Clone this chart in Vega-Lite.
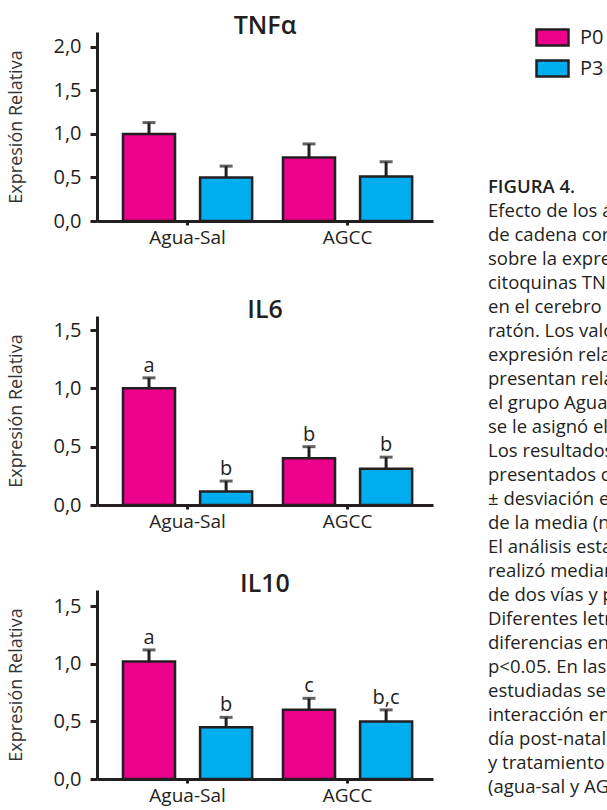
{
  "$schema": "https://vega.github.io/schema/vega-lite/v6.json",
  "background": "white",
  "padding": {"left": 7, "top": 14, "right": 0, "bottom": 0},
  "datasets": {
    "barras": [
      {"panel": "TNFα", "grupo": "Agua-Sal", "dia": "P0", "media": 1.0, "superior": 1.13, "letra": ""},
      {"panel": "TNFα", "grupo": "Agua-Sal", "dia": "P3", "media": 0.5, "superior": 0.63, "letra": ""},
      {"panel": "TNFα", "grupo": "AGCC", "dia": "P0", "media": 0.73, "superior": 0.885, "letra": ""},
      {"panel": "TNFα", "grupo": "AGCC", "dia": "P3", "media": 0.51, "superior": 0.68, "letra": ""},
      {"panel": "IL6", "grupo": "Agua-Sal", "dia": "P0", "media": 1.0, "superior": 1.09, "letra": "a"},
      {"panel": "IL6", "grupo": "Agua-Sal", "dia": "P3", "media": 0.115, "superior": 0.205, "letra": "b"},
      {"panel": "IL6", "grupo": "AGCC", "dia": "P0", "media": 0.4, "superior": 0.5, "letra": "b"},
      {"panel": "IL6", "grupo": "AGCC", "dia": "P3", "media": 0.31, "superior": 0.41, "letra": "b"},
      {"panel": "IL10", "grupo": "Agua-Sal", "dia": "P0", "media": 1.02, "superior": 1.12, "letra": "a"},
      {"panel": "IL10", "grupo": "Agua-Sal", "dia": "P3", "media": 0.45, "superior": 0.535, "letra": "b"},
      {"panel": "IL10", "grupo": "AGCC", "dia": "P0", "media": 0.6, "superior": 0.7, "letra": "c"},
      {"panel": "IL10", "grupo": "AGCC", "dia": "P3", "media": 0.5, "superior": 0.6, "letra": "b,c"}
    ],
    "texto": [
      {"linea": 0, "texto": "FIGURA 4."},
      {"linea": 1, "texto": "Efecto de los ácidos grasos"},
      {"linea": 2, "texto": "de cadena corta (AGCC)"},
      {"linea": 3, "texto": "sobre la expresión de las"},
      {"linea": 4, "texto": "citoquinas TNFα, IL6 e IL10"},
      {"linea": 5, "texto": "en el cerebro medio del"},
      {"linea": 6, "texto": "ratón. Los valores de"},
      {"linea": 7, "texto": "expresión relativa se"},
      {"linea": 8, "texto": "presentan relativos a"},
      {"linea": 9, "texto": "el grupo Agua-Sal P0, al que"},
      {"linea": 10, "texto": "se le asignó el valor de 1."},
      {"linea": 11, "texto": "Los resultados son"},
      {"linea": 12, "texto": "presentados como la media"},
      {"linea": 13, "texto": "± desviación estándar"},
      {"linea": 14, "texto": "de la media (n=6)."},
      {"linea": 15, "texto": "El análisis estadístico se"},
      {"linea": 16, "texto": "realizó mediante ANOVA"},
      {"linea": 17, "texto": "de dos vías y post-test."},
      {"linea": 18, "texto": "Diferentes letras indican"},
      {"linea": 19, "texto": "diferencias entre grupos con"},
      {"linea": 20, "texto": "p<0.05. En las citoquinas"},
      {"linea": 21, "texto": "estudiadas se encontró"},
      {"linea": 22, "texto": "interacción entre el factor"},
      {"linea": 23, "texto": "día post-natal (P0 y P3)"},
      {"linea": 24, "texto": "y tratamiento"},
      {"linea": 25, "texto": "(agua-sal y AGCC)."}
    ]
  },
  "resolve": {"scale": {"fill": "independent"}, "legend": {"fill": "independent"}},
  "spacing": 55,
  "hconcat": [
    {
      "spacing": 41,
      "vconcat": [
        {
          "spacing": 51,
          "vconcat": [
            {
              "width": 336, "height": 189,
              "title": {"text": "TNFα"},
              "data": {"name": "barras"},
              "transform": [{"filter": "datum.panel === 'TNFα'"}],
              "encoding": {
                "x": {"field": "grupo", "type": "nominal", "sort": ["Agua-Sal", "AGCC"], "scale": {"paddingInner": 0, "paddingOuter": 0.05, "align": 0.66}, "axis": {"title": null}},
                "xOffset": {"field": "dia", "type": "nominal", "sort": ["P0", "P3"], "scale": {"paddingInner": 0.325, "paddingOuter": 0.2}}
              },
              "layer": [
                {"mark": {"type": "bar", "stroke": "#231f20", "strokeWidth": 2.5},
                 "encoding": {
                   "y": {"field": "media", "type": "quantitative", "title": "Expresión Relativa", "scale": {"domain": [0, 2.17], "nice": false}, "axis": {"values": [0, 0.5, 1, 1.5, 2]}},
                   "fill": {"field": "dia", "type": "nominal", "scale": {"domain": ["P0", "P3"], "range": ["#ec008c", "#00aeef"]}, "legend": null}}},
                {"mark": {"type": "rule", "stroke": "#231f20", "strokeWidth": 3},
                 "encoding": {"y": {"field": "media", "type": "quantitative", "title": "Expresión Relativa"}, "y2": {"field": "superior"}}},
                {"mark": {"type": "tick", "color": "#231f20", "thickness": 3, "size": 13, "orient": "horizontal"},
                 "encoding": {"y": {"field": "superior", "type": "quantitative", "title": "Expresión Relativa"}}}
              ]
            },
            {
              "width": 336, "height": 189,
              "title": {"text": "IL6"},
              "data": {"name": "barras"},
              "transform": [{"filter": "datum.panel === 'IL6'"}],
              "encoding": {
                "x": {"field": "grupo", "type": "nominal", "sort": ["Agua-Sal", "AGCC"], "scale": {"paddingInner": 0, "paddingOuter": 0.05, "align": 0.66}, "axis": {"title": null}},
                "xOffset": {"field": "dia", "type": "nominal", "sort": ["P0", "P3"], "scale": {"paddingInner": 0.325, "paddingOuter": 0.2}}
              },
              "layer": [
                {"mark": {"type": "bar", "stroke": "#231f20", "strokeWidth": 2.5},
                 "encoding": {
                   "y": {"field": "media", "type": "quantitative", "title": "Expresión Relativa", "scale": {"domain": [0, 1.62], "nice": false}, "axis": {"values": [0, 0.5, 1, 1.5]}},
                   "fill": {"field": "dia", "type": "nominal", "scale": {"domain": ["P0", "P3"], "range": ["#ec008c", "#00aeef"]}, "legend": null}}},
                {"mark": {"type": "rule", "stroke": "#231f20", "strokeWidth": 3},
                 "encoding": {"y": {"field": "media", "type": "quantitative", "title": "Expresión Relativa"}, "y2": {"field": "superior"}}},
                {"mark": {"type": "tick", "color": "#231f20", "thickness": 3, "size": 13, "orient": "horizontal"},
                 "encoding": {"y": {"field": "superior", "type": "quantitative", "title": "Expresión Relativa"}}},
                {"mark": {"type": "text", "dy": -6, "baseline": "alphabetic", "fontSize": 20, "font": "Open Sans", "color": "#231f20"},
                 "encoding": {"y": {"field": "superior", "type": "quantitative", "title": "Expresión Relativa"}, "text": {"field": "letra"}}}
              ]
            }
          ]
        },
        {
          "width": 336, "height": 189,
          "title": {"text": "IL10"},
          "data": {"name": "barras"},
          "transform": [{"filter": "datum.panel === 'IL10'"}],
          "encoding": {
            "x": {"field": "grupo", "type": "nominal", "sort": ["Agua-Sal", "AGCC"], "scale": {"paddingInner": 0, "paddingOuter": 0.05, "align": 0.66}, "axis": {"title": null}},
            "xOffset": {"field": "dia", "type": "nominal", "sort": ["P0", "P3"], "scale": {"paddingInner": 0.325, "paddingOuter": 0.2}}
          },
          "layer": [
            {"mark": {"type": "bar", "stroke": "#231f20", "strokeWidth": 2.5},
             "encoding": {
               "y": {"field": "media", "type": "quantitative", "title": "Expresión Relativa", "scale": {"domain": [0, 1.64], "nice": false}, "axis": {"values": [0, 0.5, 1, 1.5]}},
               "fill": {"field": "dia", "type": "nominal", "scale": {"domain": ["P0", "P3"], "range": ["#ec008c", "#00aeef"]}, "legend": null}}},
            {"mark": {"type": "rule", "stroke": "#231f20", "strokeWidth": 3},
             "encoding": {"y": {"field": "media", "type": "quantitative", "title": "Expresión Relativa"}, "y2": {"field": "superior"}}},
            {"mark": {"type": "tick", "color": "#231f20", "thickness": 3, "size": 13, "orient": "horizontal"},
             "encoding": {"y": {"field": "superior", "type": "quantitative", "title": "Expresión Relativa"}}},
            {"mark": {"type": "text", "dy": -6, "baseline": "alphabetic", "fontSize": 20, "font": "Open Sans", "color": "#231f20"},
             "encoding": {"y": {"field": "superior", "type": "quantitative", "title": "Expresión Relativa"}, "text": {"field": "letra"}}}
          ]
        }
      ]
    },
    {
      "width": 120, "height": 800,
      "layer": [
        {
          "data": {"name": "barras"},
          "transform": [{"filter": "false"}],
          "mark": {"type": "bar", "stroke": "#231f20", "strokeWidth": 2.5},
          "encoding": {
            "fill": {"field": "dia", "type": "nominal", "scale": {"domain": ["P0", "P3"], "range": ["#ec008c", "#00aeef"]},
              "legend": {"orient": "none", "legendX": 47, "legendY": -12, "title": null, "symbolType": "M-1,-0.5H1V0.5H-1Z", "symbolSize": 1024, "symbolStrokeColor": "#231f20", "symbolStrokeWidth": 2.5, "symbolOpacity": 1, "labelFontSize": 20, "labelFont": "Open Sans", "labelColor": "#231f20", "labelOffset": 10, "rowPadding": 0, "padding": 0}}
          }
        },
        {
          "data": {"name": "texto"},
          "transform": [{"filter": "datum.linea > 0"}],
          "mark": {"type": "text", "align": "left", "baseline": "middle", "fontSize": 18.5, "font": "Open Sans", "color": "#231f20"},
          "encoding": {
            "x": {"datum": 0, "type": "quantitative", "scale": {"domain": [0, 1]}, "axis": null},
            "y": {"field": "linea", "type": "quantitative", "scale": {"domain": [-6.458, 26.875], "reverse": true, "nice": false, "zero": false}, "axis": null},
            "text": {"field": "texto"}
          }
        },
        {
          "data": {"name": "texto"},
          "transform": [{"filter": "datum.linea === 0"}],
          "mark": {"type": "text", "align": "left", "baseline": "middle", "fontSize": 18.5, "font": "Open Sans", "fontWeight": 600, "color": "#231f20"},
          "encoding": {
            "x": {"datum": 0, "type": "quantitative"},
            "y": {"field": "linea", "type": "quantitative"},
            "text": {"field": "texto"}
          }
        }
      ]
    }
  ],
  "config": {
    "view": {"stroke": null},
    "font": "Open Sans",
    "title": {"fontSize": 25, "fontWeight": 600, "font": "Open Sans", "color": "#231f20", "offset": -7, "anchor": "middle"},
    "axis": {"grid": false, "domainColor": "#231f20", "domainWidth": 3, "tickColor": "#231f20", "tickWidth": 3, "labelColor": "#231f20", "labelFont": "Open Sans", "titleFont": "Open Sans", "titleColor": "#333333", "titleFontWeight": "normal"},
    "axisY": {"tickSize": 7, "labelPadding": 9, "labelFontSize": 20, "titleFontSize": 18, "titlePadding": 27, "labelExpr": "replace(format(datum.value, '.1f'), '.', ',')"},
    "axisX": {"tickSize": 4, "labelAngle": 0, "labelFontSize": 19, "labelPadding": 3}
  }
}
